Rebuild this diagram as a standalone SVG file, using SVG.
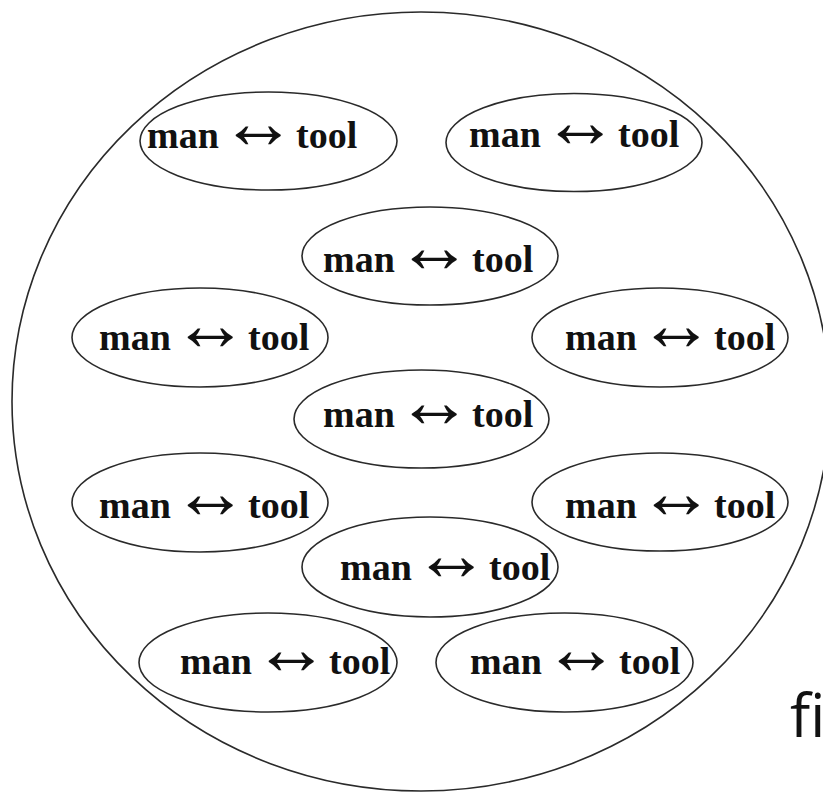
<svg xmlns="http://www.w3.org/2000/svg" width="823" height="793" viewBox="0 0 823 793">
<style>
.bg{fill:#fff}
.outer{fill:none;stroke:#2a2a2a;stroke-width:1.6}
.node ellipse{fill:none;stroke:#2a2a2a;stroke-width:1.6}
.lbl{font-family:"Liberation Serif","Times New Roman",serif;font-weight:bold;font-size:38px;fill:#111}
.arr{font-size:76px}
.fig{font-family:"Open Sans","Liberation Sans",sans-serif;font-size:60px;fill:#111}
</style>
<rect class="bg" x="0" y="0" width="823" height="793"/>
<ellipse class="outer" cx="421" cy="401.5" rx="409" ry="389.5"/>
<g id="node1" class="node"><ellipse cx="268.5" cy="141" rx="128.5" ry="49"/><text class="lbl" y="148"><tspan x="147">man</tspan><tspan class="arr" x="220">↔</tspan><tspan x="296">tool</tspan></text></g>
<g id="node2" class="node"><ellipse cx="574" cy="142.5" rx="128" ry="49"/><text class="lbl" y="147"><tspan x="469">man</tspan><tspan class="arr" x="542">↔</tspan><tspan x="618">tool</tspan></text></g>
<g id="node3" class="node"><ellipse cx="430" cy="256" rx="128" ry="49"/><text class="lbl" y="272"><tspan x="323">man</tspan><tspan class="arr" x="396">↔</tspan><tspan x="472">tool</tspan></text></g>
<g id="node4" class="node"><ellipse cx="200" cy="337.5" rx="128" ry="49.5"/><text class="lbl" y="350"><tspan x="99">man</tspan><tspan class="arr" x="172">↔</tspan><tspan x="248">tool</tspan></text></g>
<g id="node5" class="node"><ellipse cx="660" cy="337.5" rx="128" ry="49.5"/><text class="lbl" y="350"><tspan x="565">man</tspan><tspan class="arr" x="638">↔</tspan><tspan x="714">tool</tspan></text></g>
<g id="node6" class="node"><ellipse cx="421.5" cy="419" rx="127.5" ry="49"/><text class="lbl" y="427"><tspan x="323">man</tspan><tspan class="arr" x="396">↔</tspan><tspan x="472">tool</tspan></text></g>
<g id="node7" class="node"><ellipse cx="200" cy="502.5" rx="128" ry="49.5"/><text class="lbl" y="518"><tspan x="99">man</tspan><tspan class="arr" x="172">↔</tspan><tspan x="248">tool</tspan></text></g>
<g id="node8" class="node"><ellipse cx="660" cy="502" rx="128" ry="49"/><text class="lbl" y="518"><tspan x="565">man</tspan><tspan class="arr" x="638">↔</tspan><tspan x="714">tool</tspan></text></g>
<g id="node9" class="node"><ellipse cx="430" cy="567" rx="128" ry="50"/><text class="lbl" y="580"><tspan x="340">man</tspan><tspan class="arr" x="413">↔</tspan><tspan x="489">tool</tspan></text></g>
<g id="node10" class="node"><ellipse cx="268" cy="662.5" rx="129" ry="49.5"/><text class="lbl" y="674"><tspan x="180">man</tspan><tspan class="arr" x="253">↔</tspan><tspan x="329">tool</tspan></text></g>
<g id="node11" class="node"><ellipse cx="564.5" cy="662.5" rx="128.5" ry="49.5"/><text class="lbl" y="674"><tspan x="470">man</tspan><tspan class="arr" x="543">↔</tspan><tspan x="619">tool</tspan></text></g>
<g id="connectors"></g>
<text class="fig" x="790" y="737">fi</text>
</svg>
